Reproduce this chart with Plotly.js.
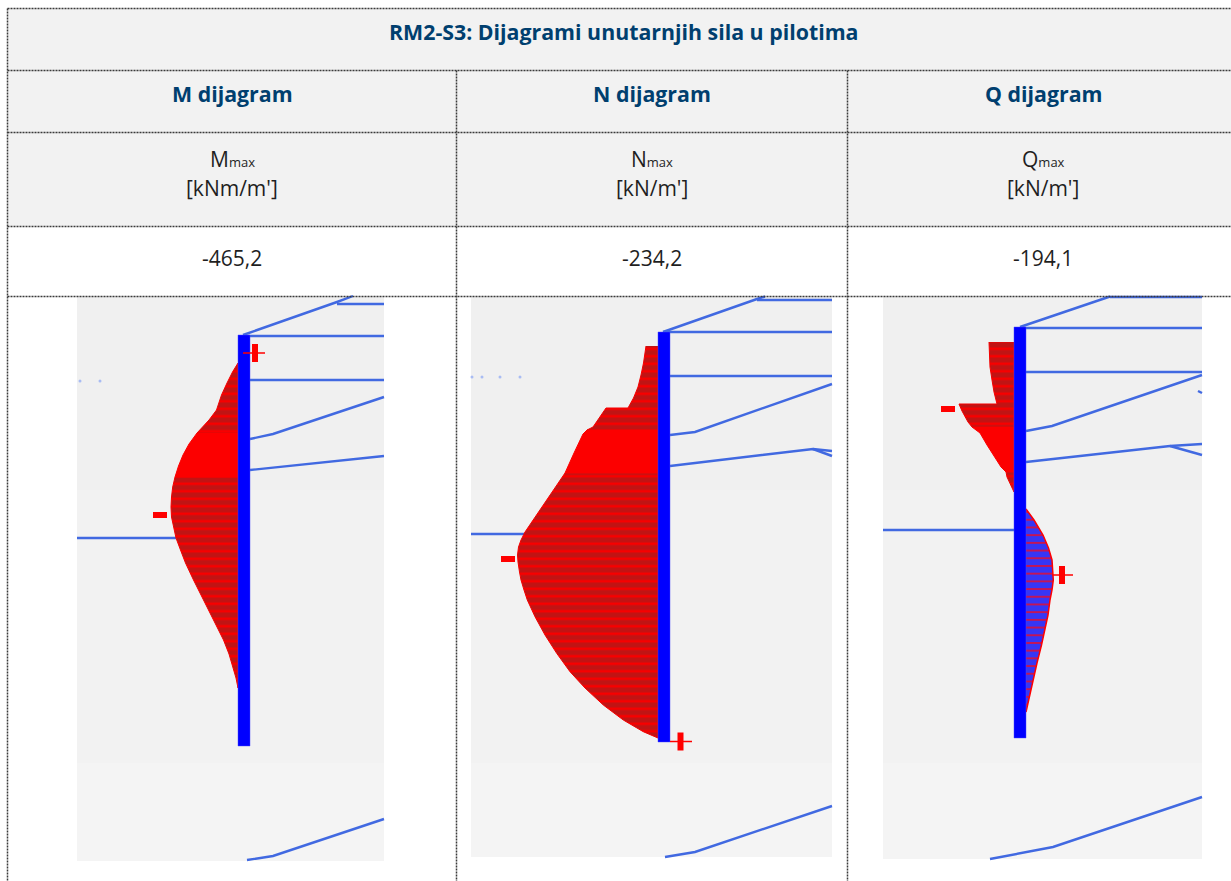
<!DOCTYPE html>
<html><head><meta charset="utf-8">
<script src="https://cdn.plot.ly/plotly-3.0.1.min.js"></script>
<style>html,body{margin:0;padding:0;background:#fff;overflow:hidden}</style>
</head><body><div id="chart" style="width:1231px;height:881px"></div>
<script>
// ---- text ----
const titleText = 'RM2-S3: Dijagrami unutarnjih sila u pilotima';
const diagramNames = ['M dijagram','N dijagram','Q dijagram'];
const maxLabels = ['M','N','Q'];
const unitLabels = ["[kNm/m']","[kN/m']","[kN/m']"];
const maxValues = ['-465,2','-234,2','-194,1'];
const columnCentres = [232,652,1043];

// ---- M diagram profile ----
const mUpperX = [238,232.5,227,221.5,216.5,209,197];  const mUpperY = [363,372,383,395,410,420,433];
const mMidX   = [197,189,183,178.5,175];              const mMidY   = [433,444,455,466,477];
const mLowerX = [175,172.7,171.5,171,171.5,173.5,176,180.5,185.5,193.5,200,207,215,223.5,229,233,236,238];
const mLowerY = [477,487,497,507,517,528,538,550,563,580,593,607,623,640,654,667,678,688];
// ---- N diagram profile ----
const nUpperX = [646,645,643.5,641,638,633.5,628,606,601,593,587];
const nUpperY = [346,355,363,375,387,398,408,408,415,427,430];
const nMidX   = [587,583,574,565];                    const nMidY   = [430,434,453,473];
const nLowerX = [565,555,545,535,525,521,518.5,517.5,518,519.5,521,524,527.3,535,545,556.7,570,585,603.3,623.3,643.3,658];
const nLowerY = [473,488,503,518,532,540,547,555,562,572,580,590,600,616.7,635,653.3,671.7,688,705,720,731.7,738];
// ---- Q diagram profile ----
const qUpperX = [989,989.5,990,992,994,997,959,962,968,972];  const qUpperY = [342,355,367,380,392,404,404,411,422,427];
const qMidX   = [972,980,987,995,1001,1006];                  const qMidY   = [427,433,445,457,467,472];
const qLowerX = [1006,1007,1014];                             const qLowerY = [472,477,492];
const qPosX   = [1026,1034,1043,1048.5,1052,1053,1053.3,1052,1050,1048,1045,1041.5,1037,1031,1026];
const qPosY   = [509,520,535,548,560,570,580,590,600,615,630,645,663,690,712];

// ---- blue construction lines: [xs, ys] per panel ----
const mLines = [
 [[243,337,353],[335,302,296]], [[337,384],[304,304]], [[243,384],[336,336]], [[250,384],[380,380]],
 [[250,273,384],[439,434,397]], [[250,384],[470,456]], [[77,176],[538,538]], [[247,273,384],[860,856,819]]];
const nLines = [
 [[663,757,765],[332,299,296.5]], [[757,832],[300,300]], [[663,832],[332,332]], [[670,832],[376,376]],
 [[670,695,832],[435,432,384]], [[670,813,832],[466,449,451]], [[813,832],[449,456]], [[471,525],[534,534]],
 [[665,695,832],[857,852,806]]];
const qLines = [
 [[1020,1110],[327,296.5]], [[1110,1202],[297,297]], [[1020,1202],[328,328]], [[1026,1202],[372,372]],
 [[1026,1052,1202],[431,426,375]], [[1026,1170,1202],[462,446,444]], [[1170,1202],[446,455]],
 [[1198,1202],[391,393]], [[883,1014],[530,530]], [[990,1053,1202],[859,847,797]]];
const dotsX = [80,100,472,482,500,520];
const dotsY = [381,381,377,377,377,377];

// ---- piles [x0,x1,y0,y1] ----
const piles = [[238,250,335,746],[658,670,332,742],[1014,1026,327,738]];
// ---- image panels [x0,x1,y0,y1] ----
const panels = [[77,384,296,861],[471,832,296,857],[883,1202,296,859]];
// ---- plus / minus signs ----
const minusSigns = [[153,167,515],[501,515,559],[941,955,409]];
const plusSigns  = [[243,265,255,353],[670,692,680.5,741.5],[1052,1073,1062,575]];

// ---- table grid ----
const gridH = [8.5,70.5,132.5,226.5,296.5];
const gridV = [7.5,456.5,847.5];
const tableRight = 1231, headEnd = 226;

const traces = [];
function poly(xs,ys,fill,extra){
  traces.push(Object.assign({type:'scatter',mode:'lines',x:xs,y:ys,fill:'toself',fillcolor:fill,
    line:{width:0},hoverinfo:'skip',showlegend:false},extra||{}));
}
function rect(x0,x1,y0,y1,fill,extra){ poly([x0,x1,x1,x0,x0],[y0,y0,y1,y1,y0],fill,extra); }
function line(xs,ys,color,width,dash){
  traces.push({type:'scatter',mode:'lines',x:xs,y:ys,line:{color:color,width:width,dash:dash||'solid',simplify:false},hoverinfo:'skip',showlegend:false});
}
rect(gridV[0],tableRight,gridH[0],headEnd,'#f2f2f2');
panels.forEach(p=>{
  rect(p[0],p[1],p[2],490,'#f0f0f0');
  rect(p[0],p[1],490,763,'#f2f2f2');
  rect(p[0],p[1],763,p[3],'#f4f4f4');
});
[mLines,nLines,qLines].forEach(g=>g.forEach(l=>line(l[0],l[1],'#4169e1',2.4)));
traces.push({type:'scatter',mode:'markers',x:dotsX,y:dotsY,marker:{size:3,color:'#a9bcf3'},hoverinfo:'skip',showlegend:false});

const stripes = {line:{width:1,color:'#f40000'},fillpattern:{shape:'-',size:7.5,solidity:0.34,bgcolor:'#c01414',fgcolor:'#f80000',fillmode:'replace'}};
function diagram(wall,ux,uy,mx,my,lx,ly){
  poly(ux.concat([wall,wall]),uy.concat([uy[uy.length-1],uy[0]]),'#c01414',stripes);
  poly(lx.concat([wall,wall]),ly.concat([ly[ly.length-1],ly[0]]),'#c01414',stripes);
  poly(mx.concat([wall,wall]),my.concat([my[my.length-1],my[0]]),'#fc0000',{line:{width:1,color:'#fc0000'}});
}
diagram(piles[0][0],mUpperX,mUpperY,mMidX,mMidY,mLowerX,mLowerY);
diagram(piles[1][0],nUpperX,nUpperY,nMidX,nMidY,nLowerX,nLowerY);
diagram(piles[2][0],qUpperX,qUpperY,qMidX,qMidY,qLowerX,qLowerY);
poly(qPosX,qPosY,'#3636f5',{line:{width:1.5,color:'#ff0000'},fillpattern:{shape:'-',size:7.7,solidity:0.22,bgcolor:'#3636f5',fgcolor:'#d8103f',fillmode:'replace'}});

piles.forEach(p=>rect(p[0],p[1],p[2],p[3],'#0000ff',{line:{width:1,color:'rgba(70,70,255,0.45)'}}));
minusSigns.forEach(s=>line([s[0],s[1]],[s[2],s[2]],'#ff0000',6));
plusSigns.forEach(s=>{
  line([s[0],s[1]],[s[3],s[3]],'#ff0000',1.5);
  line([s[2],s[2]],[s[3]-9,s[3]+9],'#ff0000',6);
});
const gridCol='#3a3a3a', gridDash='2px,1px';
gridH.forEach(y=>line([gridV[0],tableRight],[y,y],gridCol,1.5,gridDash));
line([gridV[0],gridV[0]],[gridH[0],881],gridCol,1.5,gridDash);
gridV.slice(1).forEach(x=>line([x,x],[gridH[1],881],gridCol,1.5,gridDash));

const head='#003f6f', body='#1f1f1f', fam='"Open Sans", sans-serif';
const ann=(x,y,t,size,color,bold)=>({x:x,y:y,xref:'x',yref:'y',text:bold?'<b>'+t+'</b>':t,showarrow:false,
  xanchor:'center',yanchor:'middle',font:{family:fam,size:size,color:color}});
const annotations=[ann(623.5,31,titleText,21.33,head,true)];
columnCentres.forEach((c,i)=>{
  annotations.push(ann(c,93,diagramNames[i],21.33,head,true));
  annotations.push(ann(c,159,maxLabels[i]+'<span style="font-size:13px">max</span>',21,body));
  annotations.push(ann(c,188,unitLabels[i],21,body));
  annotations.push(ann(c,258,maxValues[i],21,body));
});

Plotly.newPlot('chart',traces,{
  width:1231,height:881,margin:{l:0,r:0,t:0,b:0},
  paper_bgcolor:'#ffffff',plot_bgcolor:'#ffffff',showlegend:false,
  xaxis:{visible:false,fixedrange:true,range:[0,1231]},
  yaxis:{visible:false,fixedrange:true,range:[881,0]},
  annotations:annotations
},{displayModeBar:false,staticPlot:true});
</script></body></html>
